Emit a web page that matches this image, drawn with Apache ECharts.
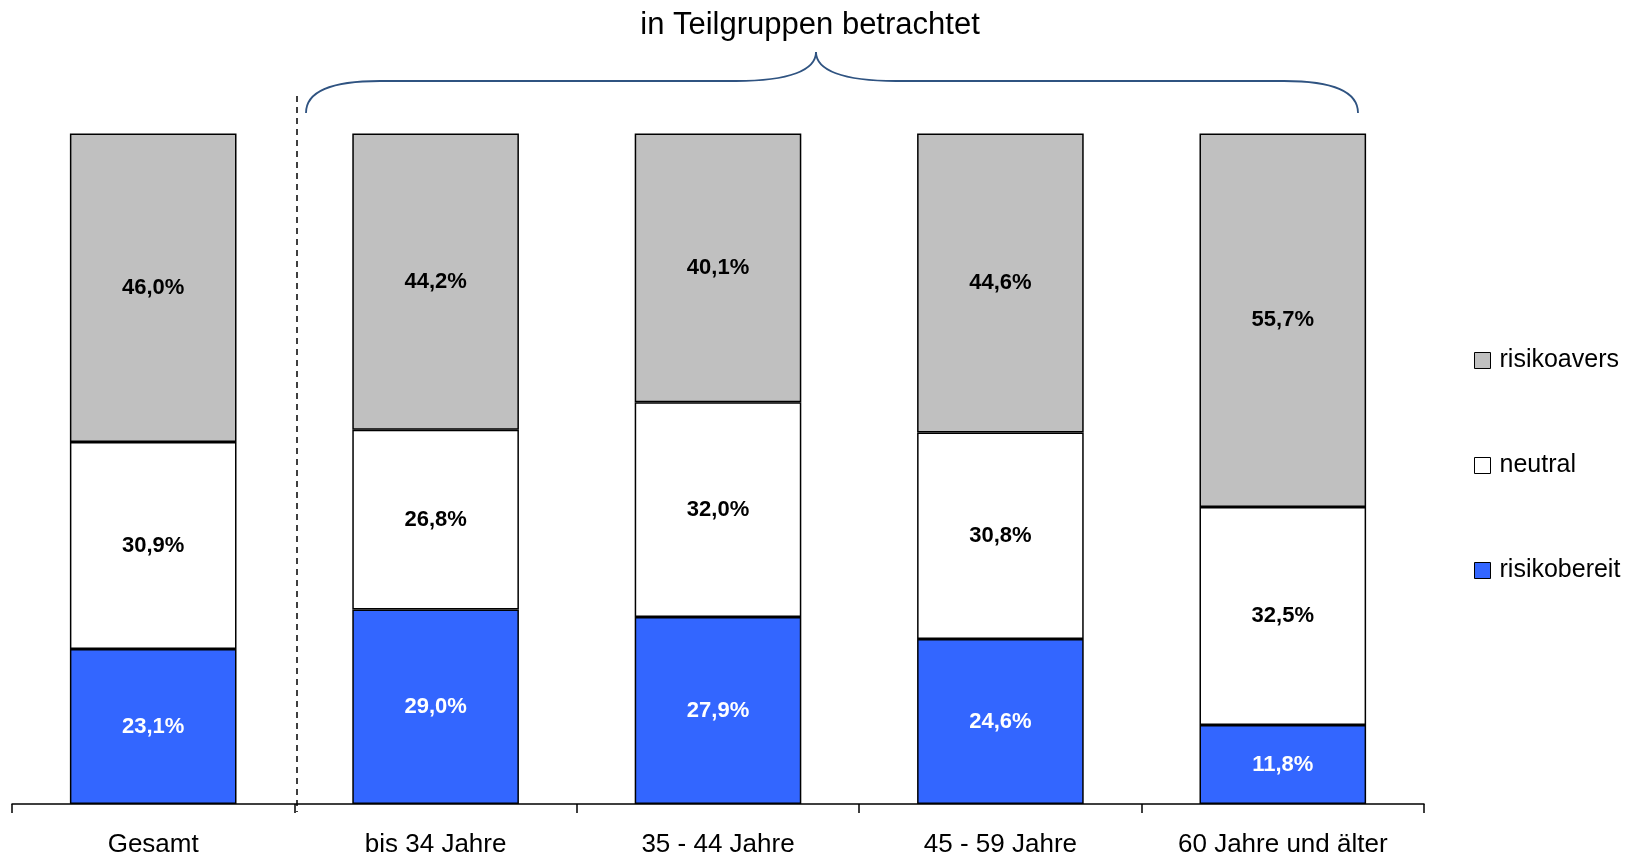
<!DOCTYPE html>
<html>
<head>
<meta charset="utf-8">
<script src="https://cdn.jsdelivr.net/npm/echarts@6/dist/echarts.min.js"></script>
<style>
  html, body { margin: 0; padding: 0; background: #fff; }
  #c1 { width: 1636px; height: 860px; }
</style>
</head>
<body>
<div id="c1"></div>
<script>
// Kategorien (Altersgruppen)
var categories = ['Gesamt', 'bis 34 Jahre', '35 - 44 Jahre', '45 - 59 Jahre', '60 Jahre und älter']
var risikobereit = [23.1, 29.0, 27.9, 24.6, 11.8]
var neutral = [30.9, 26.8, 32.0, 30.8, 32.5]
var risikoavers = [46.0, 44.2, 40.1, 44.6, 55.7]

var fontFamily = '"Liberation Sans", Arial, sans-serif'
var braceColor = '#2F5381'

function fmt(p) {
  return p.value.toFixed(1).replace('.', ',') + '%'
}

var myChart = echarts.init(document.getElementById('c1'))

function barSeries(name, data, color, labelColor) {
  return {
    name: name,
    type: 'bar',
    stack: 'total',
    barWidth: '59%',
    data: data,
    itemStyle: {
      color: color,
      borderColor: '#000',
      borderWidth: 1.5
    },
    label: {
      show: true,
      position: 'inside',
      formatter: fmt,
      color: labelColor,
      fontWeight: 'bold',
      fontSize: 22,
      fontFamily: fontFamily
    },
    emphasis: { disabled: true }
  }
}

function curve(x1, y1, cx1, cy1, cx2, cy2, x2, y2) {
  return {
    type: 'bezierCurve',
    shape: { x1: x1, y1: y1, cpx1: cx1, cpy1: cy1, cpx2: cx2, cpy2: cy2, x2: x2, y2: y2 },
    style: { stroke: braceColor, lineWidth: 1.8, fill: null }
  }
}
function hline(x1, x2, y) {
  return {
    type: 'line',
    shape: { x1: x1, y1: y, x2: x2, y2: y },
    style: { stroke: braceColor, lineWidth: 1.8 }
  }
}

var option = {
  animation: false,
  backgroundColor: '#fff',
  textStyle: { fontFamily: fontFamily },
  grid: {
    left: 12,
    right: 212,
    top: 133.5,
    bottom: 56
  },
  legend: {
    orient: 'vertical',
    left: 1469,
    top: 343,
    icon: 'rect',
    itemWidth: 16,
    itemHeight: 16,
    itemGap: 80,
    data: ['risikoavers', 'neutral', 'risikobereit'],
    textStyle: { fontSize: 25, color: '#000', fontFamily: fontFamily, padding: [0, 0, 0, 4] },
    itemStyle: { borderColor: '#000', borderWidth: 1 }
  },
  xAxis: {
    type: 'category',
    data: categories,
    axisLine: { lineStyle: { color: '#000', width: 1.5 } },
    axisTick: { show: true, interval: 0, length: 9, lineStyle: { color: '#000', width: 1.5 } },
    axisLabel: { interval: 0, color: '#000', fontSize: 26, margin: 28, fontFamily: fontFamily }
  },
  yAxis: {
    type: 'value',
    min: 0,
    max: 100,
    show: false,
    splitLine: { show: false }
  },
  series: [
    barSeries('risikobereit', risikobereit, '#3366FF', '#fff'),
    barSeries('neutral', neutral, '#fff', '#000'),
    barSeries('risikoavers', risikoavers, '#C0C0C0', '#000')
  ],
  graphic: [
    {
      type: 'text',
      x: 810,
      y: 10,
      style: {
        text: 'in Teilgruppen betrachtet',
        fontSize: 31,
        fill: '#000',
        fontFamily: fontFamily,
        align: 'center'
      }
    },
    {
      // Trennlinie zwischen Gesamt und Teilgruppen
      type: 'line',
      shape: { x1: 297, y1: 96, x2: 297, y2: 812 },
      style: { stroke: '#000', lineWidth: 1.5, lineDash: [6, 5] }
    },
    // geschweifte Klammer
    curve(306, 113, 306, 92, 330, 81, 380, 81),
    hline(380, 736, 81),
    curve(736, 81, 790, 81, 816, 70, 816, 52),
    curve(816, 52, 816, 70, 842, 81, 896, 81),
    hline(896, 1284, 81),
    curve(1284, 81, 1334, 81, 1358, 92, 1358, 113)
  ]
}
myChart.setOption(option)
</script>
</body>
</html>
